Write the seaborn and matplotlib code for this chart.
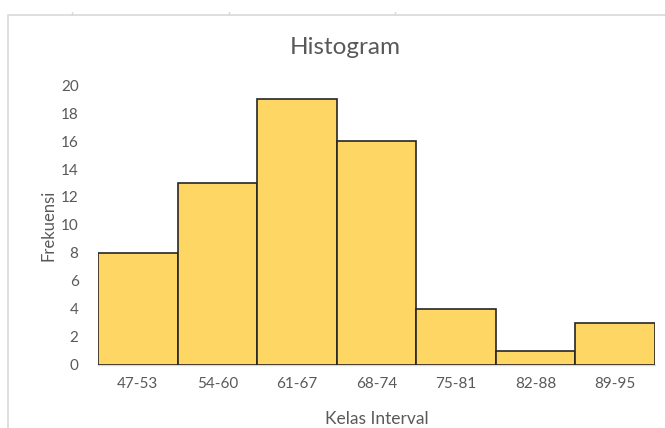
import matplotlib
matplotlib.use("Agg")
import matplotlib.pyplot as plt
from matplotlib.patches import Rectangle
import seaborn as sns
import pandas as pd

# data
kelas = ["47-53", "54-60", "61-67", "68-74", "75-81", "82-88", "89-95"]
frekuensi = [8, 13, 19, 16, 4, 1, 3]
y_ticks = [0, 2, 4, 6, 8, 10, 12, 14, 16, 18, 20]

df = pd.DataFrame({"kelas": kelas, "frekuensi": frekuensi})

sns.set_style("white")
plt.rcParams["font.family"] = ["Lato", "DejaVu Sans"]

grey = "#595959"

fig = plt.figure(figsize=(6.65, 4.28), dpi=100)
ax = fig.add_axes([0.1474, 0.1472, 0.8376, 0.6542])

sns.barplot(data=df, x="kelas", y="frekuensi", color="#FDD663", width=1.0,
            edgecolor="#262626", linewidth=1.2, saturation=1, ax=ax)

ax.set_xlim(-0.5, 6.5)
ax.set_ylim(0, 20)
ax.set_yticks(y_ticks)
ax.tick_params(axis="both", colors=grey, labelsize=11, length=0)
ax.tick_params(axis="x", pad=9)
ax.tick_params(axis="y", pad=14)

for s in ["top", "right", "left"]:
    ax.spines[s].set_visible(False)
ax.spines["bottom"].set_color("#D9D9D9")
ax.spines["bottom"].set_linewidth(1)
ax.spines["bottom"].set_zorder(0)

ax.set_xlabel("Kelas Interval", color=grey, fontsize=12.5, labelpad=14)
ax.set_ylabel("Frekuensi", color=grey, fontsize=12, labelpad=3)

fig.text(0.519, 0.89, "Histogram", ha="center", va="center",
         color=grey, fontsize=17.5)

# chart area frame (Excel style)
fig.patches.append(Rectangle((8 / 665, -0.01), 1.0, 1 - 15 / 428 + 0.01,
                             transform=fig.transFigure, fill=False,
                             edgecolor="#D9D9D9", linewidth=1.2))
for xp in [72, 229, 395]:
    fig.add_artist(plt.Line2D([xp / 665, xp / 665], [1 - 12 / 428, 1 - 15 / 428],
                              transform=fig.transFigure, color="#D9D9D9", lw=1))

fig.savefig("out.png", dpi=100)
